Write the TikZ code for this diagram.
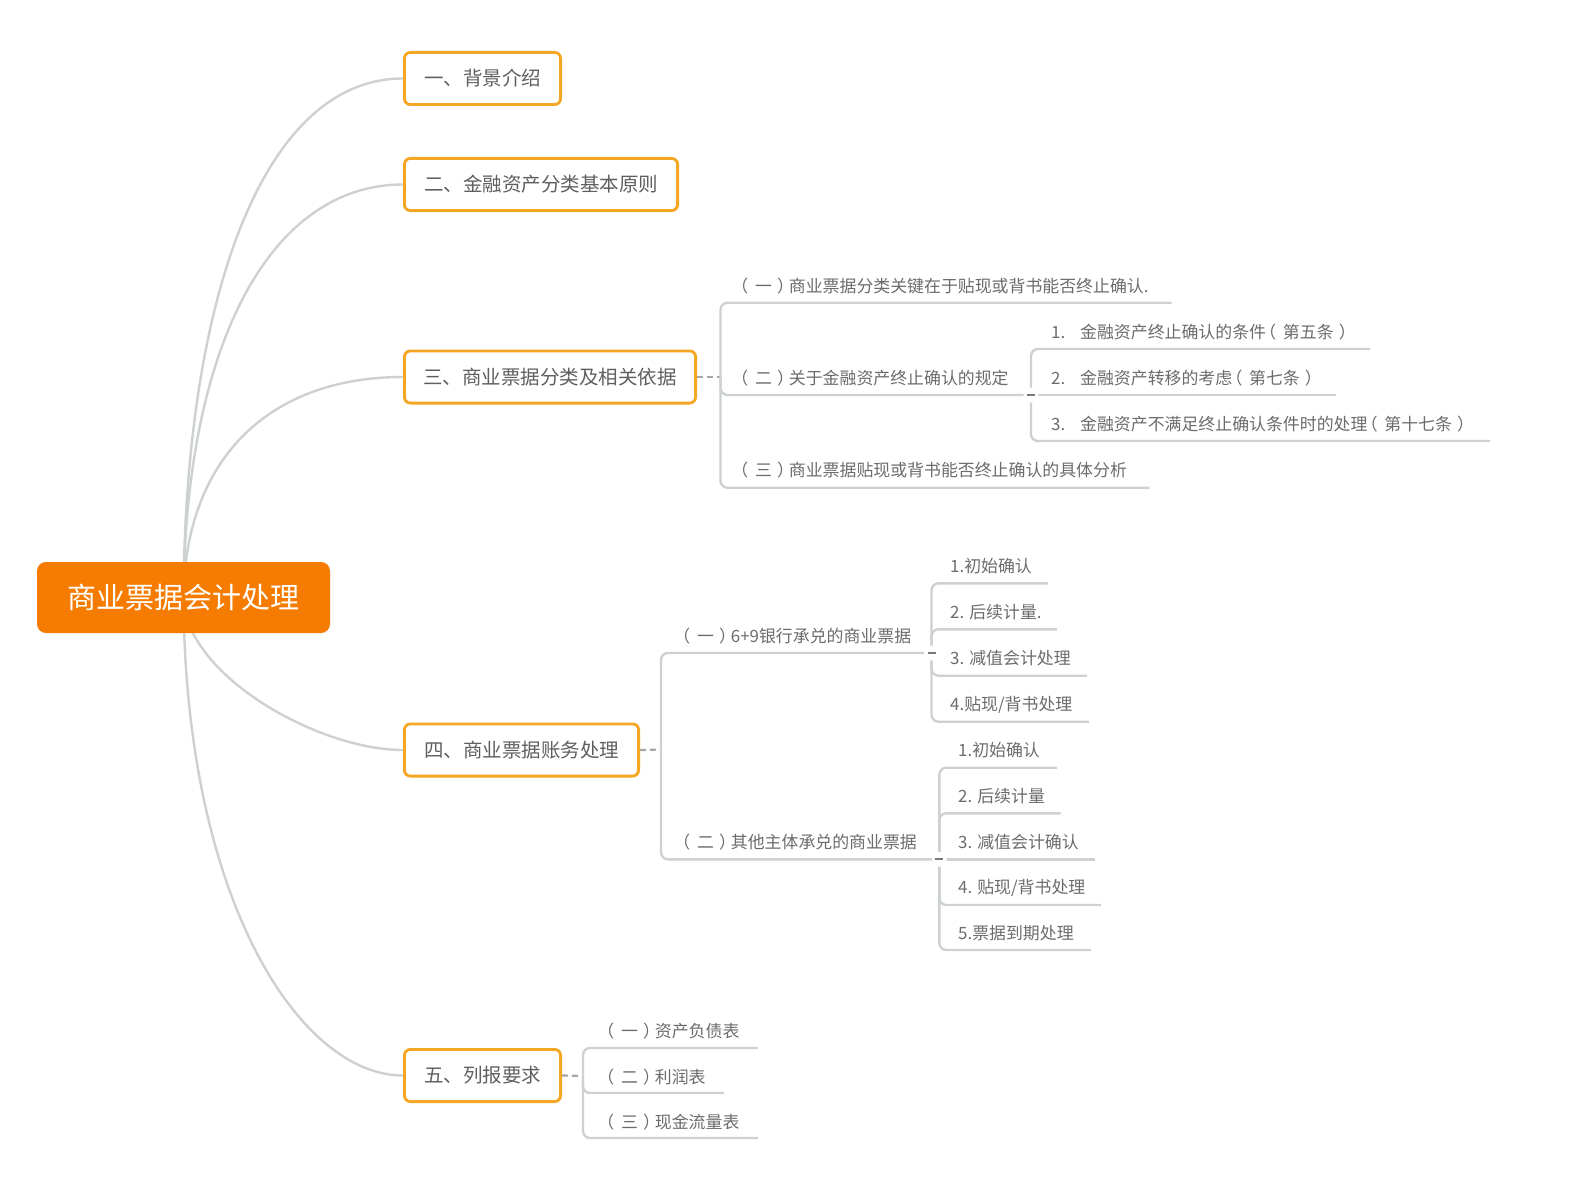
\documentclass[tikz,border=0pt]{standalone}
\usepackage{fontspec}
\setmainfont{Noto Sans CJK SC}
\pgfdeclarelayer{bg}
\pgfsetlayers{bg,main}
\definecolor{lineg}{RGB}{206,209,210}
\definecolor{dashg}{RGB}{165,165,165}
\definecolor{markg}{RGB}{120,120,120}
\definecolor{boxor}{RGB}{245,166,35}
\definecolor{rootor}{RGB}{245,124,0}
\definecolor{txtg}{RGB}{108,108,108}
\definecolor{boxtxt}{RGB}{95,95,95}
\newcommand\lpar{\makebox[1em][l]{\hspace{-0.4em}（}}
\newcommand\rpar{\makebox[1em][r]{）\hspace{-0.3em}}}
\begin{document}
\begin{tikzpicture}[x=1pt,y=-1pt,
  conn/.style={draw=lineg, line width=2.4pt, rounded corners=7pt},
  curv/.style={draw=lineg, line width=2.4pt},
  dashc/.style={draw=dashg, line width=2.2pt, dash pattern=on 6pt off 4pt},
  topic/.style={draw=boxor, line width=2.8pt, rounded corners=6pt, fill=white, text=boxtxt,
    font=\fontsize{19.5}{22}\selectfont, minimum height=52.2pt, inner sep=0pt},
  rootbox/.style={fill=rootor, rounded corners=9pt, text=white, font=\fontsize{29}{32}\selectfont,
    minimum width=293pt, minimum height=71pt, inner sep=0pt},
  ctext/.style={anchor=west, inner sep=0pt, text=txtg, font=\fontsize{16.9}{20}\selectfont},
  gapmark/.style={fill=white},
  dashmark/.style={draw=markg, line width=2.2pt}]
\useasboundingbox (0,0) rectangle (1583,1196);

% root and main topics
\node[rootbox] (root) at (183.5,597.5) {商业票据会计处理};
\node[topic, minimum width=156.2pt] (b1) at (482.5,78.5) {一、背景介绍};
\node[topic, minimum width=273.2pt] (b2) at (541,184.5) {二、金融资产分类基本原则};
\node[topic, minimum width=291.2pt] (b3) at (550,377) {三、商业票据分类及相关依据};
\node[topic, minimum width=234.2pt] (b4) at (521.5,750) {四、商业票据账务处理};
\node[topic, minimum width=156.2pt] (b5) at (482.5,1075.5) {五、列报要求};

% branch three texts
\node[ctext] (t3a) at (738,286.5) {\lpar 一\rpar 商业票据分类关键在于贴现或背书能否终止确认.};
\node[ctext] (t3b) at (738,378) {\lpar 二\rpar 关于金融资产终止确认的规定};
\node[ctext] (t3b1) at (1051,332.5) {\makebox[29pt][l]{1.}金融资产终止确认的条件\lpar 第五条\rpar};
\node[ctext] (t3b2) at (1051,378) {\makebox[29pt][l]{2.}金融资产转移的考虑\lpar 第七条\rpar};
\node[ctext] (t3b3) at (1051,424) {\makebox[29pt][l]{3.}金融资产不满足终止确认条件时的处理\lpar 第十七条\rpar};
\node[ctext] (t3c) at (738,470.5) {\lpar 三\rpar 商业票据贴现或背书能否终止确认的具体分析};

% branch four texts
\node[ctext] (t4a) at (680,636) {\lpar 一\rpar 6+9银行承兑的商业票据};
\node[ctext] (t4a1) at (950,566.5) {1.初始确认};
\node[ctext] (t4a2) at (950,612) {2. 后续计量.};
\node[ctext] (t4a3) at (950,658.5) {3. 减值会计处理};
\node[ctext] (t4a4) at (950,704.5) {4.贴现/背书处理};
\node[ctext] (t4b) at (680,842) {\lpar 二\rpar 其他主体承兑的商业票据};
\node[ctext] (t4b1) at (958,750.5) {1.初始确认};
\node[ctext] (t4b2) at (958,796.5) {2. 后续计量};
\node[ctext] (t4b3) at (958,842) {3. 减值会计确认};
\node[ctext] (t4b4) at (958,888) {4. 贴现/背书处理};
\node[ctext] (t4b5) at (958,933) {5.票据到期处理};

% branch five texts
\node[ctext] (t5a) at (604,1031.5) {\lpar 一\rpar 资产负债表};
\node[ctext] (t5b) at (604,1077) {\lpar 二\rpar 利润表};
\node[ctext] (t5c) at (604,1122.5) {\lpar 三\rpar 现金流量表};

% junctions and underline ends
\coordinate (j3) at (720.5,377);
\coordinate (j4) at (661,749.5);
\coordinate (j5) at (583,1076);
\coordinate (j3b) at (1031,395);
\coordinate (j4a) at (931.5,653);
\coordinate (j4b) at (939.3,859.3);
\coordinate (u3a) at (1171.6,302.7);
\coordinate (u3b) at (1024,395);
\coordinate (u3c) at (1149.7,487.7);
\coordinate (u3b1) at (1370,349);
\coordinate (u3b2) at (1336,395);
\coordinate (u3b3) at (1490,441);
\coordinate (u4a) at (924.5,653);
\coordinate (u4b) at (932.3,859.3);
\coordinate (u4a1) at (1048,583.3);
\coordinate (u4a2) at (1057,629.3);
\coordinate (u4a3) at (1087,675.7);
\coordinate (u4a4) at (1089,721.7);
\coordinate (u4b1) at (1057,767.7);
\coordinate (u4b2) at (1060.7,813.3);
\coordinate (u4b3) at (1095,859.3);
\coordinate (u4b4) at (1101,905);
\coordinate (u4b5) at (1091,950);
\coordinate (u5a) at (758,1048);
\coordinate (u5b) at (724,1093);
\coordinate (u5c) at (758,1138);

\begin{pgfonlayer}{bg}
\fill[white] (0,0) rectangle (1583,1196);
% curves from root
\draw[curv] (root.center) .. controls (185,300) and (262,78.5) .. (b1.west);
\draw[curv] (root.center) .. controls (185,349) and (268,184.5) .. (b2.west);
\draw[curv] (root.center) .. controls (185,460) and (268,377) .. (b3.west);
\draw[curv] (root.center) .. controls (185,675) and (318,750) .. (b4.west);
\draw[curv] (root.center) .. controls (185,900) and (300,1075.5) .. (b5.west);
% dashed links
\draw[dashc] (b3.east) -- (j3);
\draw[dashc] (b4.east) -- (j4);
\draw[dashc] (b5.east) -- (j5);
% branch three
\draw[conn] (j3) |- (u3a);
\draw[conn] (j3) |- (u3b);
\draw[conn] (j3) |- (u3c);
\draw[conn] (j3b) |- (u3b1);
\draw[conn] (j3b) -- (u3b2);
\draw[conn] (j3b) |- (u3b3);
% branch four
\draw[conn] (j4) |- (u4a);
\draw[conn] (j4) |- (u4b);
\draw[conn] (j4a) |- (u4a1);
\draw[conn] (j4a) |- (u4a2);
\draw[conn] (j4a) |- (u4a3);
\draw[conn] (j4a) |- (u4a4);
\draw[conn] (j4b) |- (u4b1);
\draw[conn] (j4b) |- (u4b2);
\draw[conn] (j4b) -- (u4b3);
\draw[conn] (j4b) |- (u4b4);
\draw[conn] (j4b) |- (u4b5);
% branch five
\draw[conn] (j5) |- (u5a);
\draw[conn] (j5) |- (u5b);
\draw[conn] (j5) |- (u5c);
% collapse markers
\fill[gapmark] (j3b) circle (7.5pt);
\fill[gapmark] (j4a) circle (7.5pt);
\fill[gapmark] (j4b) circle (7.5pt);
\draw[dashmark] ([xshift=-4pt]j3b) -- ([xshift=4pt]j3b);
\draw[dashmark] ([xshift=-4pt]j4a) -- ([xshift=4pt]j4a);
\draw[dashmark] ([xshift=-4pt]j4b) -- ([xshift=4pt]j4b);
\end{pgfonlayer}
\end{tikzpicture}
\end{document}
